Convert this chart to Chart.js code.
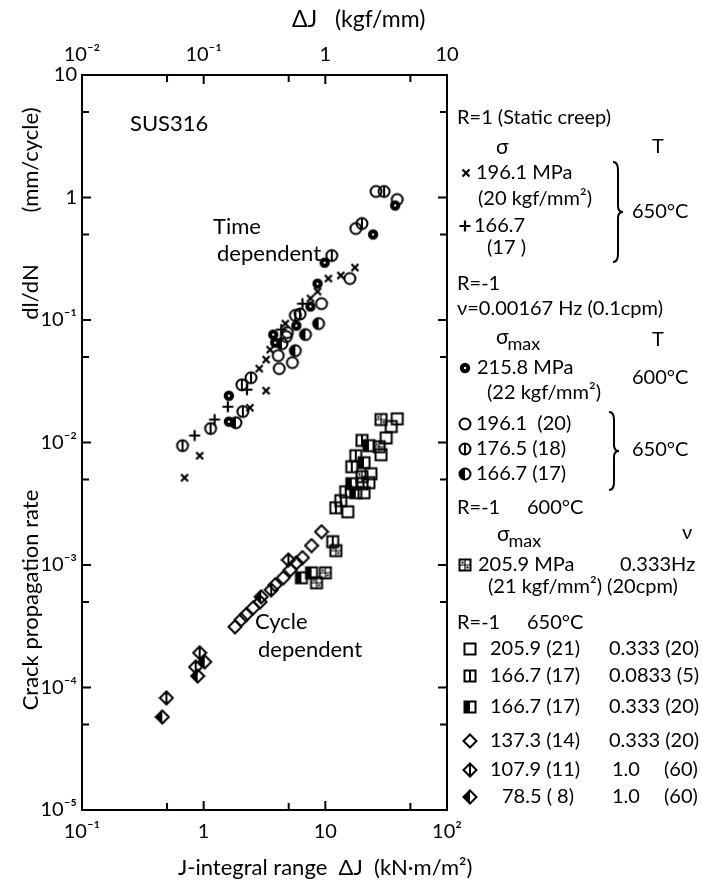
<!DOCTYPE html>
<html>
<head>
<meta charset="utf-8">
<title>SUS316 crack propagation rate vs J-integral range</title>
<script src="https://cdn.jsdelivr.net/npm/chart.js"></script>
<style>
html, body { margin: 0; padding: 0; background: #fff; }
#chart { display: block; }
</style>
</head>
<body>
<canvas id="chart" width="702" height="887"></canvas>
<script>
// values (J in kN*m/m2, rate in mm/cycle)

// R=1 static creep, 650C
const creep196J = [17.5, 13.4, 10.6, 8.63, 7.55, 4.69, 3.52, 3.26, 2.86, 3.26, 2.40, 0.927, 0.696];
const creep196Rate = [0.268, 0.231, 0.218, 0.171, 0.150, 0.0935, 0.0573, 0.0475, 0.0401, 0.0265, 0.0192, 0.0078, 0.00516];
const creep167J = [6.49, 4.34, 2.27, 1.58, 1.23, 0.842];
const creep167Rate = [0.136, 0.0835, 0.027, 0.0196, 0.0154, 0.0114];

// R=-1, 0.00167 Hz
const slow216J = [37.5, 24.7, 9.86, 8.63, 7.55, 5.78, 3.73, 3.87, 1.61, 1.61];
const slow216Rate = [0.861, 0.499, 0.294, 0.198, 0.129, 0.090, 0.076, 0.0654, 0.0241, 0.0148];
const slow196J = [26.1, 39.0, 17.8, 15.9, 9.31, 4.87, 4.78, 4.10, 5.36, 4.18];
const slow196Rate = [1.12, 0.963, 0.558, 0.218, 0.136, 0.0789, 0.0732, 0.0512, 0.0449, 0.0401];
const slow177J = [30.4, 20.0, 11.3, 5.67, 6.2, 2.45, 2.06, 2.10, 1.14, 0.670];
const slow177Rate = [1.12, 0.613, 0.336, 0.109, 0.112, 0.0338, 0.0296, 0.0179, 0.0130, 0.00942];
const slow167J = [8.80, 6.87, 5.67, 1.84, 4.40];
const slow167Rate = [0.0935, 0.0760, 0.0562, 0.0145, 0.0640];

// R=-1, 600C, 0.333 Hz
const fast206at600J = [28.7, 27.7, 20.0, 12.2, 8.47, 10.0];
const fast206at600Rate = [0.0154, 0.00924, 0.00526, 0.00131, 0.000716, 0.000863];

// R=-1, 650C
const fast206J = [39.0, 34.8, 31.6, 28.7, 23.7, 20.8, 15.3, 20.0, 22.8];
const fast206Rate = [0.0156, 0.0135, 0.0109, 0.00795, 0.00556, 0.00389, 0.00272, 0.00461, 0.0047];
const mid167J = [20.0, 17.8, 16.5, 14.7, 12.2, 11.5, 13.4];
const mid167Rate = [0.0104, 0.0078, 0.00634, 0.00396, 0.00293, 0.00155, 0.00335];
const fast167J = [22.8, 20.8, 17.8, 6.36, 7.70, 16.5];
const fast167Rate = [0.00942, 0.00684, 0.00389, 0.000786, 0.000863, 0.00461];
const fast137J = [9.31, 7.70, 6.49, 5.78, 5.16, 4.51, 3.87, 2.91, 2.55, 2.23, 2.03, 1.81];
const fast137Rate = [0.00187, 0.00144, 0.00115, 0.00104, 0.000914, 0.000786, 0.000689, 0.0005, 0.000447, 0.000392, 0.000357, 0.000313];
const hz1at108J = [4.97, 3.59, 0.927, 0.859, 0.494];
const hz1at108Rate = [0.0011, 0.000627, 0.000192, 0.000147, 0.0000822];
const hz1at79J = [2.97, 1.02, 0.892, 0.457];
const hz1at79Rate = [0.00055, 0.000162, 0.000124, 0.0000575];

// axis ticks
const xTicks = [0.1, 0.5, 1, 5, 10, 50, 100];
const xTopTicks = [0.01, 0.05, 0.1, 0.5, 1, 5, 10];
const yTicks = [1e-5, 5e-5, 1e-4, 5e-4, 1e-3, 5e-3, 1e-2, 5e-2, 0.1, 0.5, 1, 5, 10];

const FONT = "Lato, 'DejaVu Sans', sans-serif";
const SUP = {"-": "\u207B", "1": "\u00B9", "2": "\u00B2", "3": "\u00B3", "4": "\u2074", "5": "\u2075"};

function powLabel(v) {
    let e = Math.round(Math.log10(v));
    if (Math.abs(Math.log10(v) - e) > 1e-6) return "";
    if (e === 0) return "1";
    if (e === 1) return "10";
    return "10" + String(e).split("").map(ch => SUP[ch]).join("");
}

function makeMarker(kind) {
    let c = document.createElement("canvas");
    c.width = 16;
    c.height = 16;
    let g = c.getContext("2d");
    g.strokeStyle = "#000";
    g.fillStyle = "#000";
    g.lineWidth = 2;
    g.beginPath();
    if (kind === "cross") {
        g.lineWidth = 2.2;
        g.moveTo(4.5, 4.5); g.lineTo(11.5, 11.5);
        g.moveTo(11.5, 4.5); g.lineTo(4.5, 11.5);
        g.stroke();
    } else if (kind === "plus") {
        g.lineWidth = 2.2;
        g.moveTo(8, 2.5); g.lineTo(8, 13.5);
        g.moveTo(2.5, 8); g.lineTo(13.5, 8);
        g.stroke();
    } else if (kind === "dotCircle") {
        g.arc(8, 8, 5.2, 0, Math.PI * 2);
        g.fill();
        g.fillStyle = "#fff";
        g.fillRect(7, 7, 2, 2);
    } else if (kind === "circle") {
        g.arc(8, 8, 5.5, 0, Math.PI * 2);
        g.stroke();
    } else if (kind === "thetaCircle") {
        g.arc(8, 8, 5.5, 0, Math.PI * 2);
        g.moveTo(8, 2.5); g.lineTo(8, 13.5);
        g.stroke();
    } else if (kind === "halfCircle") {
        g.arc(8, 8, 5.5, 0, Math.PI * 2);
        g.stroke();
        g.beginPath();
        g.arc(8, 8, 5.5, Math.PI / 2, Math.PI * 1.5);
        g.fill();
    } else if (kind === "square") {
        g.strokeRect(2.5, 2.5, 11, 11);
    } else if (kind === "lineSquare") {
        g.strokeRect(2.5, 2.5, 11, 11);
        g.moveTo(8, 2.5); g.lineTo(8, 13.5);
        g.stroke();
    } else if (kind === "halfSquare") {
        g.strokeRect(2.5, 2.5, 11, 11);
        g.fillRect(2.5, 2.5, 5.5, 11);
    } else if (kind === "gridSquare") {
        g.strokeRect(2.5, 2.5, 11, 11);
        g.lineWidth = 1.2;
        g.moveTo(8, 2.5); g.lineTo(8, 13.5);
        g.moveTo(2.5, 8); g.lineTo(13.5, 8);
        g.stroke();
        g.fillRect(4.5, 4.5, 2, 2);
        g.fillRect(9.5, 9.5, 2, 2);
    } else if (kind === "diamond" || kind === "lineDiamond" || kind === "halfDiamond") {
        g.moveTo(8, 1.5); g.lineTo(14.5, 8); g.lineTo(8, 14.5); g.lineTo(1.5, 8); g.closePath();
        g.stroke();
        if (kind === "lineDiamond") {
            g.beginPath();
            g.moveTo(8, 1.5); g.lineTo(8, 14.5);
            g.stroke();
        }
        if (kind === "halfDiamond") {
            g.beginPath();
            g.moveTo(8, 1.5); g.lineTo(8, 14.5); g.lineTo(1.5, 8); g.closePath();
            g.fill();
        }
    }
    return c;
}

const markers = {};
["cross", "plus", "dotCircle", "circle", "thetaCircle", "halfCircle", "square", "lineSquare",
 "halfSquare", "gridSquare", "diamond", "lineDiamond", "halfDiamond"].forEach(k => markers[k] = makeMarker(k));

function series(label, xs, ys, kind) {
    return {
        label: label,
        data: xs.map((x, i) => ({x: x, y: ys[i]})),
        pointStyle: markers[kind],
        pointRadius: 6,
        pointHoverRadius: 6,
        showLine: false
    };
}

const datasets = [
    series("R=1 196.1 MPa", creep196J, creep196Rate, "cross"),
    series("R=1 166.7 MPa", creep167J, creep167Rate, "plus"),
    series("0.00167Hz 215.8 MPa 600C", slow216J, slow216Rate, "dotCircle"),
    series("0.00167Hz 196.1 MPa", slow196J, slow196Rate, "circle"),
    series("0.00167Hz 176.5 MPa", slow177J, slow177Rate, "thetaCircle"),
    series("0.00167Hz 166.7 MPa", slow167J, slow167Rate, "halfCircle"),
    series("600C 205.9 MPa 0.333Hz", fast206at600J, fast206at600Rate, "gridSquare"),
    series("205.9 MPa 0.333Hz", fast206J, fast206Rate, "square"),
    series("166.7 MPa 0.0833Hz", mid167J, mid167Rate, "lineSquare"),
    series("166.7 MPa 0.333Hz", fast167J, fast167Rate, "halfSquare"),
    series("137.3 MPa 0.333Hz", fast137J, fast137Rate, "diamond"),
    series("107.9 MPa 1.0Hz", hz1at108J, hz1at108Rate, "lineDiamond"),
    series("78.5 MPa 1.0Hz", hz1at79J, hz1at79Rate, "halfDiamond")
];

// white page
const background = {
    id: "background",
    beforeDraw(chart) {
        let ctx = chart.ctx;
        ctx.save();
        ctx.fillStyle = "#fff";
        ctx.fillRect(0, 0, chart.width, chart.height);
        ctx.restore();
    }
};

// frame and inward tick marks on all four sides
const frame = {
    id: "frame",
    afterDatasetsDraw(chart) {
        let ctx = chart.ctx;
        let a = chart.chartArea;
        let x = chart.scales.x, x2 = chart.scales.x2, y = chart.scales.y;
        ctx.save();
        ctx.strokeStyle = "#000";
        ctx.lineWidth = 2;
        ctx.strokeRect(a.left, a.top, a.right - a.left, a.bottom - a.top);
        ctx.beginPath();
        xTicks.forEach(v => {
            let px = x.getPixelForValue(v);
            let len = powLabel(v) ? 9 : 7;
            ctx.moveTo(px, a.bottom); ctx.lineTo(px, a.bottom - len);
        });
        xTopTicks.forEach(v => {
            let px = x2.getPixelForValue(v);
            let len = powLabel(v) ? 9 : 7;
            ctx.moveTo(px, a.top); ctx.lineTo(px, a.top + len);
        });
        yTicks.forEach(v => {
            let py = y.getPixelForValue(v);
            let len = powLabel(v) ? 9 : 7;
            ctx.moveTo(a.left, py); ctx.lineTo(a.left + len, py);
            ctx.moveTo(a.right, py); ctx.lineTo(a.right - len, py);
        });
        ctx.stroke();
        ctx.restore();
    }
};

function text(ctx, str, x, y, size) {
    ctx.font = (size || 20) + "px " + FONT;
    ctx.fillText(str, x, y);
    return ctx.measureText(str).width;
}

function sigmaMax(ctx, x, y) {
    let w = text(ctx, "\u03C3", x, y - 3, 21);
    text(ctx, "max", x + w - 1, y + 4, 18);
}

function brace(ctx, x, y1, y2) {
    let ym = (y1 + y2) / 2;
    ctx.beginPath();
    ctx.moveTo(x, y1);
    ctx.quadraticCurveTo(x + 5, y1, x + 5, y1 + 8);
    ctx.lineTo(x + 5, ym - 6);
    ctx.quadraticCurveTo(x + 5, ym, x + 10, ym);
    ctx.quadraticCurveTo(x + 5, ym, x + 5, ym + 6);
    ctx.lineTo(x + 5, y2 - 8);
    ctx.quadraticCurveTo(x + 5, y2, x, y2);
    ctx.stroke();
}

// axis titles, in-plot notes and the key on the right
const notes = {
    id: "notes",
    afterDraw(chart) {
        let ctx = chart.ctx;
        ctx.save();
        ctx.fillStyle = "#000";
        ctx.strokeStyle = "#000";
        ctx.lineWidth = 2;
        ctx.textBaseline = "middle";
        ctx.textAlign = "left";

        // axis titles
        text(ctx, "\u0394J   (kgf/mm)", 292, 20, 23);
        text(ctx, "J-integral range  \u0394J  (kN\u00B7m/m\u00B2)", 178, 868, 22);
        ctx.save();
        ctx.translate(31, 0);
        ctx.rotate(-Math.PI / 2);
        ctx.textAlign = "center";
        text(ctx, "(mm/cycle)", -160, 0, 22);
        text(ctx, "dl/dN", -292, 0, 22);
        text(ctx, "Crack propagation rate", -600, 0, 22);
        ctx.restore();

        text(ctx, "SUS316", 130, 124, 22);
        text(ctx, "Time", 213, 227, 22);
        text(ctx, "dependent", 217, 254, 22);
        text(ctx, "Cycle", 255, 622, 22);
        text(ctx, "dependent", 258, 650, 22);

        let mk = (k, x, y) => ctx.drawImage(markers[k], x - 8, y - 8);

        text(ctx, "R=1 (Static creep)", 457, 118);
        text(ctx, "\u03C3", 496, 147, 21);
        text(ctx, "T", 652, 147);
        mk("cross", 466, 173); text(ctx, "196.1 MPa", 476, 173);
        text(ctx, "(20 kgf/mm\u00B2)", 478, 199);
        brace(ctx, 613, 162, 262);
        text(ctx, "650\u00B0C", 632, 212);
        mk("plus", 465, 226); text(ctx, "166.7", 474, 226);
        text(ctx, "(17 )", 487, 248);

        text(ctx, "R=-1", 457, 284);
        text(ctx, "\u03BD=0.00167 Hz (0.1cpm)", 457, 309);
        sigmaMax(ctx, 496, 340);
        text(ctx, "T", 652, 340);
        mk("dotCircle", 465, 368); text(ctx, "215.8 MPa", 477, 368);
        text(ctx, "600\u00B0C", 632, 378);
        text(ctx, "(22 kgf/mm\u00B2)", 487, 393);
        mk("circle", 465, 424); text(ctx, "196.1  (20)", 476, 424);
        mk("thetaCircle", 465, 449); text(ctx, "176.5 (18)", 476, 449);
        mk("halfCircle", 465, 474); text(ctx, "166.7 (17)", 476, 474);
        brace(ctx, 609, 412, 490);
        text(ctx, "650\u00B0C", 632, 450);

        text(ctx, "R=-1", 457, 508);
        text(ctx, "600\u00B0C", 527, 508);
        sigmaMax(ctx, 497, 537);
        text(ctx, "\u03BD", 682, 533);
        mk("gridSquare", 465, 565); text(ctx, "205.9 MPa", 478, 565);
        text(ctx, "0.333Hz", 620, 565);
        text(ctx, "(21 kgf/mm\u00B2) (20cpm)", 488, 587);

        text(ctx, "R=-1", 457, 623);
        text(ctx, "650\u00B0C", 527, 623);
        mk("square", 470, 649); text(ctx, "205.9 (21)", 490, 649); text(ctx, "0.333 (20)", 609, 649);
        mk("lineSquare", 470, 676); text(ctx, "166.7 (17)", 490, 676); text(ctx, "0.0833 (5)", 609, 676);
        mk("halfSquare", 470, 707); text(ctx, "166.7 (17)", 490, 707); text(ctx, "0.333 (20)", 609, 707);
        mk("diamond", 470, 741); text(ctx, "137.3 (14)", 490, 741); text(ctx, "0.333 (20)", 609, 741);
        mk("lineDiamond", 470, 770); text(ctx, "107.9 (11)", 490, 770); text(ctx, "1.0", 612, 770); text(ctx, "(60)", 664, 770);
        mk("halfDiamond", 470, 797); text(ctx, "78.5 ( 8)", 502, 797); text(ctx, "1.0", 612, 797); text(ctx, "(60)", 664, 797);

        ctx.restore();
    }
};

function fixedTicks(values) {
    return scale => { scale.ticks = values.map(v => ({value: v})); };
}

const tickFont = {family: FONT, size: 20};

new Chart(document.getElementById("chart"), {
    type: "scatter",
    data: {datasets: datasets},
    options: {
        responsive: false,
        animation: false,
        layout: {padding: {left: 0, right: 255, top: 0, bottom: 0}},
        plugins: {legend: {display: false}, tooltip: {enabled: false}},
        scales: {
            x: {
                type: "logarithmic",
                position: "bottom",
                min: 0.1,
                max: 100,
                afterBuildTicks: fixedTicks(xTicks),
                afterFit: s => { s.height = 77; },
                grid: {display: false, drawTicks: false},
                border: {display: false},
                ticks: {color: "#000", font: tickFont, padding: 10, autoSkip: false, maxRotation: 0,
                        callback: v => powLabel(v)}
            },
            x2: {
                type: "logarithmic",
                position: "top",
                min: 0.01,
                max: 10,
                afterBuildTicks: fixedTicks(xTopTicks),
                afterFit: s => { s.height = 75; },
                grid: {display: false, drawTicks: false},
                border: {display: false},
                ticks: {color: "#000", font: tickFont, padding: 8, autoSkip: false, maxRotation: 0,
                        callback: v => powLabel(v)}
            },
            y: {
                type: "logarithmic",
                position: "left",
                min: 1e-5,
                max: 10,
                afterBuildTicks: fixedTicks(yTicks),
                afterFit: s => { s.width = 82; },
                grid: {display: false, drawTicks: false},
                border: {display: false},
                ticks: {color: "#000", font: tickFont, padding: 5, autoSkip: false,
                        callback: v => powLabel(v)}
            }
        }
    },
    plugins: [background, frame, notes]
});
</script>
</body>
</html>
